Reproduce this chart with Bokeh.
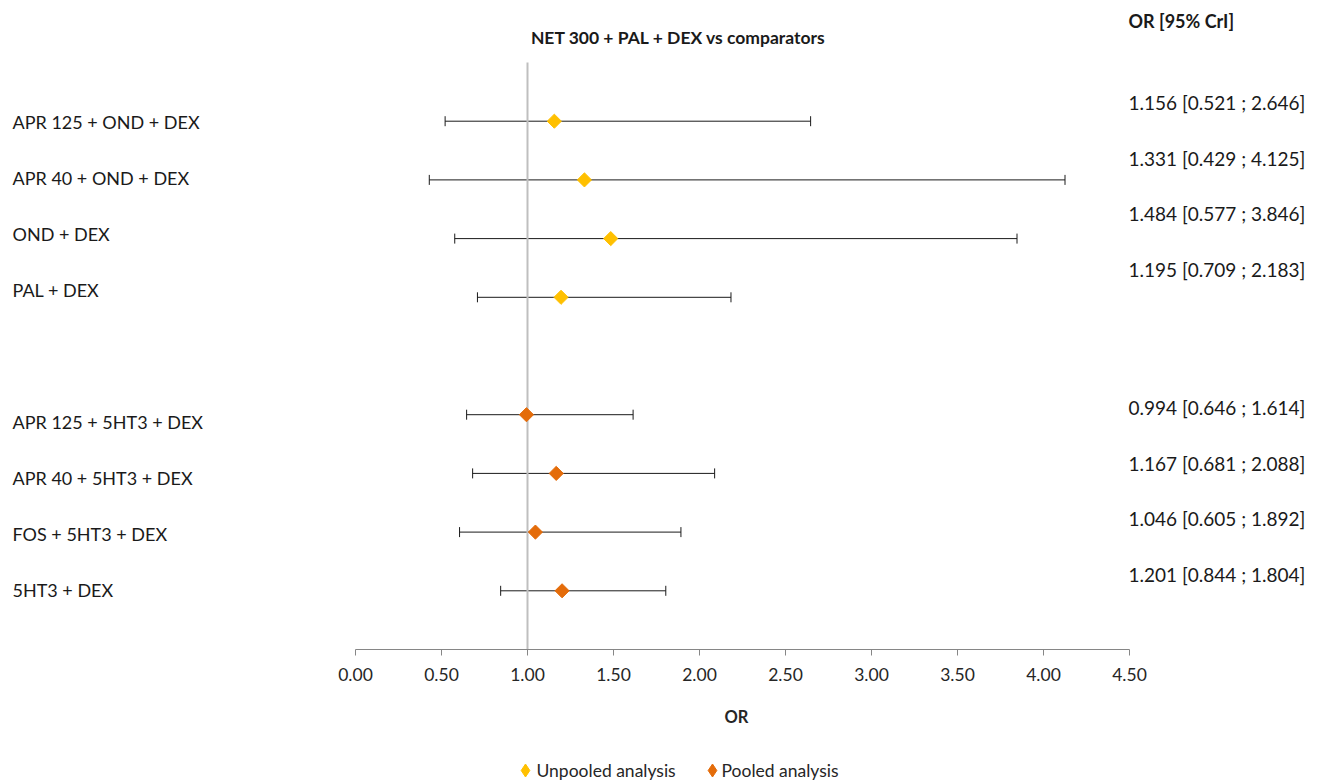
import numpy as np
from bokeh.plotting import figure
from bokeh.layouts import column
from bokeh.models import (ColumnDataSource, Range1d, FixedTicker, NumeralTickFormatter,
                          Whisker, TeeHead)
from bokeh.core.properties import value
from bokeh.embed import file_html
from bokeh.resources import INLINE

# ---- data ----
unpooled_labels = ["APR 125 + OND + DEX", "APR 40 + OND + DEX", "OND + DEX", "PAL + DEX"]
unpooled_or = [1.156, 1.331, 1.484, 1.195]
unpooled_lo = [0.521, 0.429, 0.577, 0.709]
unpooled_hi = [2.646, 4.125, 3.846, 2.183]

pooled_labels = ["APR 125 + 5HT3 + DEX", "APR 40 + 5HT3 + DEX", "FOS + 5HT3 + DEX", "5HT3 + DEX"]
pooled_or = [0.994, 1.167, 1.046, 1.201]
pooled_lo = [0.646, 0.681, 0.605, 0.844]
pooled_hi = [1.614, 2.088, 1.892, 1.804]

x_ticks = [0.0, 0.5, 1.0, 1.5, 2.0, 2.5, 3.0, 3.5, 4.0, 4.5]
title_text = "NET 300 + PAL + DEX vs comparators"
header_text = "OR [95% CrI]"
x_title = "OR"
series_names = ["Unpooled analysis", "Pooled analysis"]
series_colors = ["#FFC000", "#E46C0A"]

FONT = "Lato"
W, H = 1318, 780
H_MAIN = 700                                       # main figure; strip below for OR + legend
AX_L, AX_R, TOP, BOTTOM = 355, 1129, 62, 649       # pixel extent of the data area
X0, X1 = 0.0, 4.5
UX = (AX_R - AX_L) / (X1 - X0)                     # px per OR unit
YTOP, YBOT = 9.0, -1.0
UY = (BOTTOM - TOP) / (YTOP - YBOT)                # px per row

def px_to_x(px):
    return X0 + (px - AX_L) / UX

def py_to_y(py):
    return YTOP - (py - TOP) / UY

# row positions: 4 unpooled rows, one empty slot, 4 pooled rows
u_y = [8 - k for k in range(4)]
p_y = [3 - k for k in range(4)]

src_u = ColumnDataSource(dict(y=u_y, est=unpooled_or, lo=unpooled_lo, hi=unpooled_hi))
src_p = ColumnDataSource(dict(y=p_y, est=pooled_or, lo=pooled_lo, hi=pooled_hi))

# frame spans the full width and everything above the x axis
p = figure(width=W, height=H_MAIN,
           x_range=Range1d(px_to_x(0), px_to_x(W)),
           y_range=Range1d(YBOT, py_to_y(0)),
           output_backend="svg", toolbar_location=None,
           min_border_left=0, min_border_right=0, min_border_top=0,
           min_border_bottom=H_MAIN - BOTTOM)
p.outline_line_color = None
p.grid.visible = False
p.yaxis.visible = False

xa = p.xaxis[0]
xa.bounds = (X0, X1)
xa.ticker = FixedTicker(ticks=x_ticks)
xa.formatter = NumeralTickFormatter(format="0.00")
xa.axis_line_color = "#868686"
xa.major_tick_line_color = "#868686"
xa.major_tick_out = 6
xa.major_tick_in = 0
xa.minor_tick_line_color = None
xa.major_label_text_font = FONT
xa.major_label_text_font_size = "17.5px"
xa.major_label_text_color = "#262626"
xa.major_label_standoff = 12

# reference line at OR = 1
p.segment(x0=[1.0], y0=[YBOT], x1=[1.0], y1=[YTOP], line_color="#BFBFBF", line_width=2)

# error bars
for src in (src_u, src_p):
    p.add_layout(Whisker(source=src, base="y", lower="lo", upper="hi", dimension="width",
                         line_color="#1a1a1a", line_width=1,
                         lower_head=TeeHead(size=10, line_color="#1a1a1a", line_width=1),
                         upper_head=TeeHead(size=10, line_color="#1a1a1a", line_width=1)))

p.scatter("est", "y", source=src_u, marker="square", angle=np.pi / 4, size=10,
          fill_color=series_colors[0], line_color=series_colors[0])
p.scatter("est", "y", source=src_p, marker="square", angle=np.pi / 4, size=10,
          fill_color=series_colors[1], line_color=series_colors[1])

# texts
all_labels = unpooled_labels + pooled_labels
all_est = [f"{o:.3f} [{l:.3f} ; {h:.3f}]" for o, l, h in
           zip(unpooled_or + pooled_or, unpooled_lo + pooled_lo, unpooled_hi + pooled_hi)]
left_py = [121 + 56 * i for i in range(4)] + [421 + 56.3 * i for i in range(4)]
right_py = [102 + 55.6 * i for i in range(4)] + [407 + 55.5 * i for i in range(4)]

p.text(x=[px_to_x(12)] * 8, y=[py_to_y(v) for v in left_py], text=all_labels,
       text_font=value(FONT), text_font_size="18px", text_color="#1a1a1a",
       text_align="left", text_baseline="middle")
p.text(x=[px_to_x(1128)] * 8, y=[py_to_y(v) for v in right_py], text=all_est,
       text_font=value(FONT), text_font_size="19px", text_color="#1a1a1a",
       text_align="left", text_baseline="middle")
p.text(x=[px_to_x(678)], y=[py_to_y(37)], text=[title_text],
       text_font=value(FONT), text_font_style="bold", text_font_size="17.5px",
       text_color="#1a1a1a", text_align="center", text_baseline="middle")
p.text(x=[px_to_x(1128)], y=[py_to_y(20)], text=[header_text],
       text_font=value(FONT), text_font_style="bold", text_font_size="18px",
       text_color="#1a1a1a", text_align="left", text_baseline="middle")

# bottom strip: axis title and legend (pixel coordinates, y measured up from bottom)
HS = H - H_MAIN
lg = figure(width=W, height=HS, x_range=Range1d(0, W), y_range=Range1d(0, HS),
            output_backend="svg", toolbar_location=None,
            min_border_left=0, min_border_right=0, min_border_top=0, min_border_bottom=0)
lg.outline_line_color = None
lg.grid.visible = False
lg.axis.visible = False
lg.text(x=[736], y=[H - 716], text=[x_title], text_font=value(FONT),
        text_font_style="bold", text_font_size="16.5px", text_color="#262626",
        text_align="center", text_baseline="middle")

legend_marker_x = [525, 712]
legend_text_x = [536, 721]
legend_y = H - 770
lg.scatter(x=legend_marker_x, y=[legend_y] * 2, marker="diamond", size=13,
           fill_color=series_colors, line_color=series_colors)
lg.text(x=legend_text_x, y=[legend_y] * 2, text=series_names, text_font=value(FONT),
        text_font_size="17.5px", text_color="#262626",
        text_align="left", text_baseline="middle")

open("out.html", "w").write(file_html(column(p, lg, spacing=0), INLINE))
